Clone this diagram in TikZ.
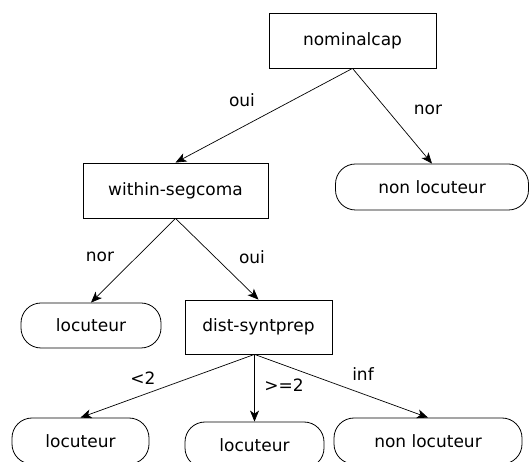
\documentclass[tikz,border=0pt]{standalone}
\usepackage{fontspec}
\setmainfont{DejaVu Sans}
\usetikzlibrary{arrows.meta}
\begin{document}
\begin{tikzpicture}[x=1pt,y=1pt,
  every node/.style={font=\fontsize{17}{19}\selectfont, inner sep=0pt},
  testbox/.style={draw, line width=0.8pt, rectangle},
  leafbox/.style={draw, line width=0.8pt, rectangle, rounded corners=20pt},
  edge/.style={draw, line width=0.7pt, -{Stealth[length=11pt,width=9pt,inset=3pt]}},
  lbl/.style={}]
\useasboundingbox (0,0) rectangle (529,462);
\node[testbox, minimum width=167pt, minimum height=55pt] (nom) at (352.5,421.5) {nominalcap};
\node[leafbox, minimum width=193pt, minimum height=46pt] (nl1) at (432,275) {non locuteur};
\node[testbox, minimum width=185pt, minimum height=55pt] (wsc) at (175.5,271.5) {within-segcoma};
\node[leafbox, minimum width=140pt, minimum height=45pt] (l1) at (91,136.5) {locuteur};
\node[testbox, minimum width=147pt, minimum height=54pt] (dsp) at (258.5,135) {dist-syntprep};
\node[leafbox, minimum width=137pt, minimum height=46pt] (l2) at (80.5,21) {locuteur};
\node[leafbox, minimum width=139pt, minimum height=46pt] (l3) at (254.5,17) {locuteur};
\node[leafbox, minimum width=188pt, minimum height=46pt] (nl2) at (428,21) {non locuteur};
\coordinate (ds) at (l3.north |- dsp.south);
\path[edge] (nom.south) -- (wsc.north);
\path[edge] (nom.south) -- (nl1.north);
\path[edge] (wsc.south) -- (l1.north);
\path[edge] (wsc.south) -- (dsp.north);
\path[edge] (ds) -- (l2.north);
\path[edge] (ds) -- (l3.north);
\path[edge] (ds) -- (nl2.north);
\node[lbl] (t1) at (242,362) {oui};
\node[lbl] (t2) at (428,352) {nor};
\node[lbl] (t3) at (100,205) {nor};
\node[lbl] (t4) at (252,205) {oui};
\node[lbl] (t5) at (143,84) {<2};
\node[lbl] (t6) at (284,77) {>=2};
\node[lbl] (t7) at (363,88) {inf};
\end{tikzpicture}
\end{document}
